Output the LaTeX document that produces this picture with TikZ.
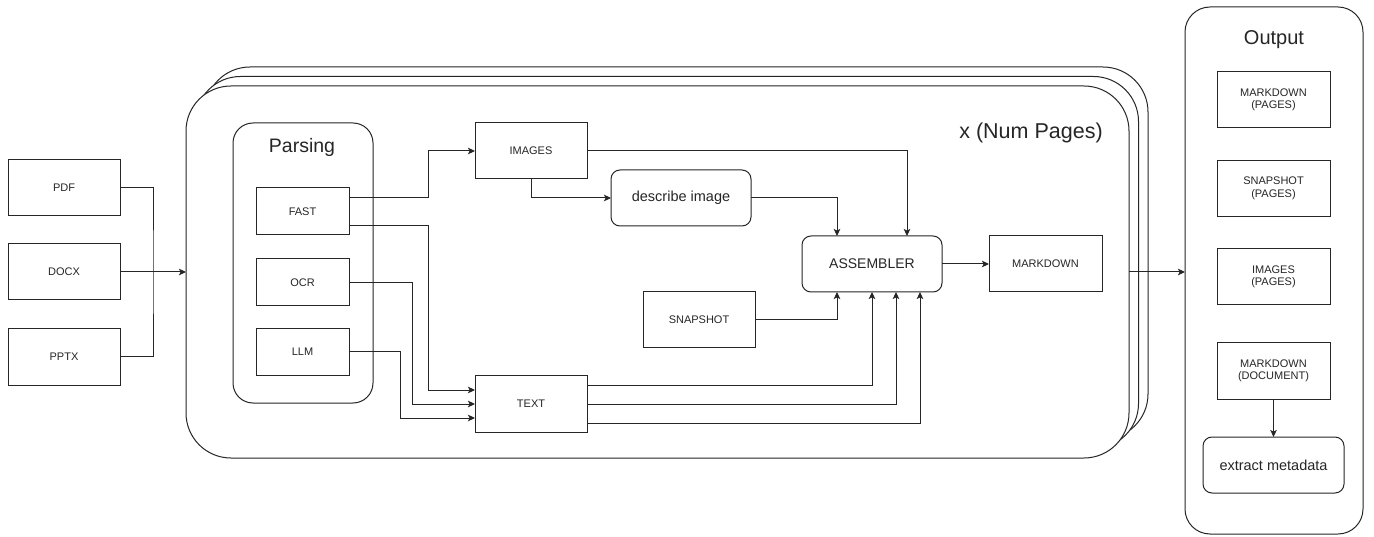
\documentclass[tikz,border=0pt]{standalone}
\usepackage{fontspec}
\setmainfont{Liberation Sans}
\usetikzlibrary{arrows.meta,shadows}

\begin{document}
\begin{tikzpicture}[x=1pt, y=-1pt,
  every node/.style={text=black!85, inner sep=0pt, outer sep=0pt},
  box/.style={draw=black!85, line width=1pt, fill=white, minimum width=112pt, minimum height=56pt,
    font=\fontsize{11}{12.5}\selectfont, align=center},
  roundbox/.style={box, rounded corners=9pt, font=\fontsize{14.5}{16}\selectfont},
  group/.style={draw=black!85, line width=1pt, fill=white},
  line/.style={draw=black!85, line width=1pt},
  arr/.style={line, -{Stealth[length=7pt, width=6.5pt, inset=1.5pt]}}]
\useasboundingbox (0,0) rectangle (1374,537);

% input documents
\node [box] (pdf) at (64,188) {PDF};
\node [box] (docx) at (64,272) {DOCX};
\node [box] (pptx) at (64,357) {PPTX};
\coordinate (merge) at (153,272);

% one card per page, stacked
\node [group, rounded corners=45pt, minimum width=943pt, minimum height=372pt,
  copy shadow={shadow xshift=19pt, shadow yshift=19pt, draw=black!85, line width=1pt},
  copy shadow={shadow xshift=9.5pt, shadow yshift=9.5pt, draw=black!85, line width=1pt}]
  (pages) at (657.5,272) {};
\node [font=\fontsize{21.5}{24}\selectfont] (count) at (1031,133) {x (Num Pages)};

% parsing modes
\node [group, rounded corners=20pt, minimum width=140pt, minimum height=280pt] (parsing) at (303,263) {};
\node [font=\fontsize{19.5}{22}\selectfont] (parsetitle) at (302,147) {Parsing};
\node [box, minimum width=93pt, minimum height=47pt] (fast) at (302.5,211.5) {FAST};
\node [box, minimum width=93pt, minimum height=47pt] (ocr) at (302.5,282.5) {OCR};
\node [box, minimum width=93pt, minimum height=47pt] (llm) at (302.5,352) {LLM};

\node [box] (images) at (531,151) {IMAGES};
\node [box] (text) at (531,404) {TEXT};
\node [roundbox, minimum width=140pt] (describe) at (681,198) {describe image};
\node [box] (snapshot) at (699,320) {SNAPSHOT};
\node [roundbox, minimum width=140pt, font=\fontsize{14}{16}\selectfont] (assembler) at (872,264) {ASSEMBLER};
\node [box, minimum width=113pt] (markdown) at (1045.5,264) {MARKDOWN};

% results
\node [group, rounded corners=25pt, minimum width=178pt, minimum height=527pt] (output) at (1274,270.5) {};
\node [font=\fontsize{20}{22}\selectfont] (outtitle) at (1274,40) {Output};
\node [box, minimum width=113pt] (mdpages) at (1273.5,100) {MARKDOWN\\(PAGES)};
\node [box, minimum width=113pt] (snappages) at (1273.5,188.5) {SNAPSHOT\\(PAGES)};
\node [box, minimum width=113pt] (imgpages) at (1273.5,277) {IMAGES\\(PAGES)};
\node [box, minimum width=113pt] (mddoc) at (1273.5,371) {MARKDOWN\\(DOCUMENT)};
\node [roundbox, minimum width=141pt] (metadata) at (1273.5,465) {extract metadata};

% connectors
\draw [line] (pdf.east) -| (merge) |- (pptx.east);
\draw [arr] (docx.east) -- (pages.west);

\draw [arr] ([yshift=13.5pt]fast.east) -- ++(79,0) |- (images.west);
\draw [arr] ([yshift=-14.5pt]fast.east) -- ++(79,0) |- ([yshift=14pt]text.west);
\draw [arr] (ocr.east) -- ++(63,0) |- (text.west);
\draw [arr] (llm.east) -- ++(51,0) |- ([yshift=-14pt]text.west);

\draw [arr] (images.south) |- (describe.west);
\draw [arr] (images.east) -| ([xshift=35pt]assembler.north);
\draw [arr] (describe.east) -| ([xshift=-35pt]assembler.north);
\draw [arr] (snapshot.east) -| ([xshift=-35pt]assembler.south);
\draw [arr] ([yshift=19pt]text.east) -| (assembler.south);
\draw [arr] (text.east) -| ([xshift=24pt]assembler.south);
\draw [arr] ([yshift=-19pt]text.east) -| ([xshift=48pt]assembler.south);
\draw [arr] (assembler.east) -- (markdown.west);

\draw [arr] (pages.east) -- (pages.east -| output.west);
\draw [arr] (mddoc.south) -- (metadata.north);
\end{tikzpicture}
\end{document}
